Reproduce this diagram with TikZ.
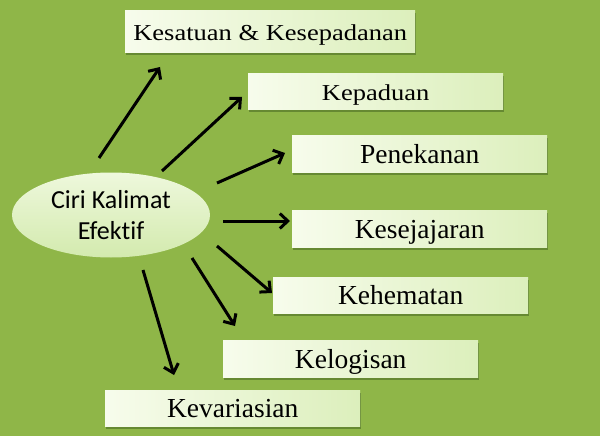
\documentclass[tikz,border=0pt]{standalone}
\usepackage{fontspec}
\setmainfont{Liberation Serif}
\newfontfamily\ellfont[Ligatures=NoCommon]{Carlito}
\usetikzlibrary{arrows.meta,shadows,shapes.geometric}
\definecolor{bg}{HTML}{8FB648}
\definecolor{boxL}{HTML}{F7FCEC}
\definecolor{boxR}{HTML}{DCEFBC}
\definecolor{shad}{HTML}{56772A}
\definecolor{ellA}{HTML}{EEF8DC}
\definecolor{ellB}{HTML}{D3EAAE}
\tikzset{
  box/.style={rectangle, anchor=north west, inner sep=0pt, left color=boxL, right color=boxR,
    drop shadow={shadow xshift=1pt, shadow yshift=-2.5pt, fill=shad, opacity=0.7},
    text height=19pt, text depth=0pt, align=center},
  bigtxt/.style={font=\fontsize{27.5}{30}\selectfont},
  smalltxt/.style={font=\fontsize{26.5}{30}\selectfont},
  arr/.style={line width=3pt, -{Straight Barb[length=8pt,width=15pt,line width=3pt]}}
}
\newcommand{\squash}[1]{\scalebox{1}[0.86]{#1}}
\begin{document}
\begin{tikzpicture}[x=1pt,y=-1pt]
\useasboundingbox[fill=bg] (0,0) rectangle (600,436);
% boxes
\node[box, smalltxt, minimum width=290pt, minimum height=42pt] (b1) at (125,10) {\squash{Kesatuan \& Kesepadanan}};
\node[box, smalltxt, minimum width=255pt, minimum height=36pt] (b2) at (248,73) {\squash{Kepaduan}};
\node[box, bigtxt, minimum width=255pt, minimum height=37pt] (b3) at (292,135) {Penekanan};
\node[box, bigtxt, minimum width=255pt, minimum height=37pt] (b4) at (292,210) {Kesejajaran};
\node[box, bigtxt, minimum width=255pt, minimum height=36pt] (b5) at (273,277) {Kehematan};
\node[box, bigtxt, minimum width=255pt, minimum height=37pt] (b6) at (223,340) {Kelogisan};
\node[box, bigtxt, minimum width=255pt, minimum height=36pt] (b7) at (105,390) {Kevariasian};
% ellipse
\node[ellipse, minimum width=198pt, minimum height=85pt, inner sep=0pt,
  top color=ellA, bottom color=ellB, align=center,
  font=\ellfont\fontsize{26}{31}\selectfont] (ell) at (111,215) {Ciri Kalimat\\Efektif};
% arrow endpoints
\coordinate (s1) at (99,158);  \coordinate (e1) at (160,67);
\coordinate (s2) at (162,171); \coordinate (e2) at (242,97);
\coordinate (s3) at (217,183); \coordinate (e3) at (285,153);
\coordinate (s4) at (223,221); \coordinate (e4) at (290,221);
\coordinate (s5) at (217,246); \coordinate (e5) at (272,293);
\coordinate (s6) at (192,258); \coordinate (e6) at (235,326);
\coordinate (s7) at (143,270); \coordinate (e7) at (174,375);
\foreach \i in {1,...,7}{\draw[arr] (s\i) -- (e\i);}
\end{tikzpicture}
\end{document}
